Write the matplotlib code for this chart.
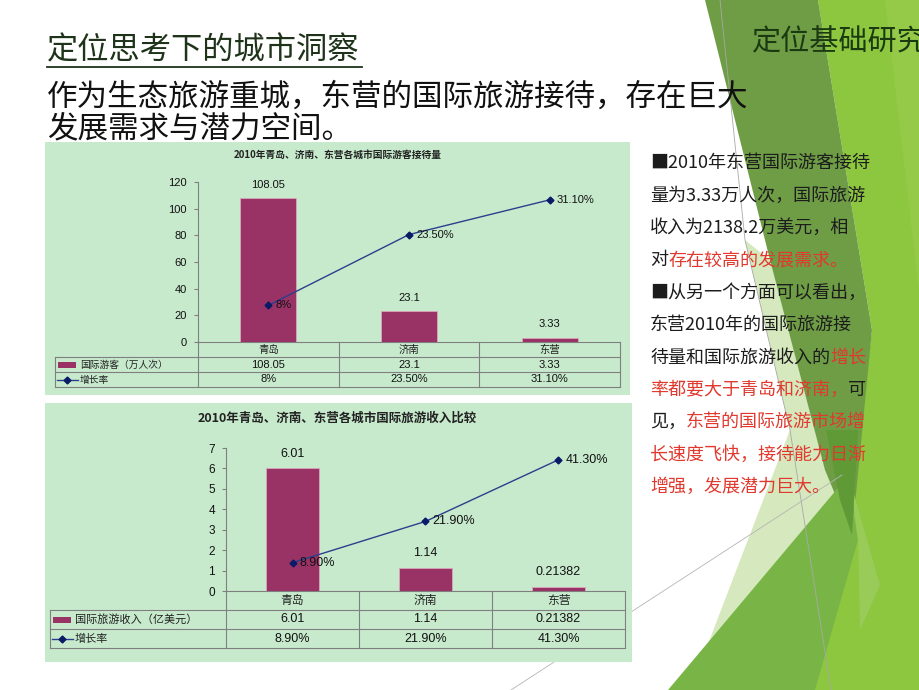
import matplotlib
matplotlib.use('Agg')
import matplotlib.pyplot as plt
from matplotlib.patches import Polygon, Rectangle
from matplotlib.transforms import blended_transform_factory as btf

plt.rcParams['font.family'] = ['Noto Sans CJK SC', 'DejaVu Sans']

# ---------------- data ----------------
cities = ['青岛', '济南', '东营']

visitors = [108.05, 23.1, 3.33]
visitor_value_labels = ['108.05', '23.1', '3.33']
visitor_growth = [0.08, 0.235, 0.311]
visitor_growth_labels = ['8%', '23.50%', '31.10%']
visitor_ticks = [0, 20, 40, 60, 80, 100, 120]

income = [6.01, 1.14, 0.21382]
income_value_labels = ['6.01', '1.14', '0.21382']
income_growth = [0.089, 0.219, 0.413]
income_growth_labels = ['8.90%', '21.90%', '41.30%']
income_ticks = [0, 1, 2, 3, 4, 5, 6, 7]

title1 = '2010年青岛、济南、东营各城市国际游客接待量'
title2 = '2010年青岛、济南、东营各城市国际旅游收入比较'
legend_bar1 = '国际游客（万人次）'
legend_bar2 = '国际旅游收入（亿美元）'
legend_line = '增长率'

W, H = 920, 690
BAR = '#993366'
LINE = '#2b3f8c'
MARK = '#0b1a66'
GRID = '#7f7f7f'
PANEL = '#c7eacd'
RED = '#e0392e'
TXT = '#1c1c1c'

fig = plt.figure(figsize=(W / 100, H / 100), dpi=100)
bg = fig.add_axes([0, 0, 1, 1])
bg.set_xlim(0, W)
bg.set_ylim(H, 0)
bg.axis('off')

# ---------------- background shapes ----------------
polys = [
    ([(818, 0), (920, 0), (920, 690), (800, 690), (852, 495), (872, 330)], '#8dc63f'),
    ([(885, 0), (920, 0), (920, 300)], '#95ca48'),
    ([(745, 240), (770, 260), (826, 472), (840, 500), (700, 665), (790, 430)], '#d6e8bd'),
    ([(705, 0), (818, 0), (872, 330), (852, 535), (825, 470), (770, 260)], '#6e9d46'),
    ([(668, 690), (848, 476), (858, 540), (815, 690)], '#79b546'),
    ([(850, 480), (880, 585), (860, 630), (858, 540)], '#98cb58'),
    ([(826, 430), (858, 430), (852, 535), (840, 500)], '#5f9a36'),
]
for pts, c in polys:
    bg.add_patch(Polygon(pts, closed=True, facecolor=c, edgecolor='none', zorder=1))
bg.plot([720, 745, 790, 831], [0, 240, 430, 690], color='#a8a8a8', lw=0.6, zorder=2)
bg.plot([511, 842], [690, 475], color='#b5b5b5', lw=0.6, zorder=2)

# ---------------- headline texts ----------------
bg.text(47, 50, '定位思考下的城市洞察', fontsize=22.5, color='#1e3319', ha='left', va='center', zorder=5)
bg.plot([47, 362], [67, 67], color='#1e3319', lw=1.3, zorder=5)
bg.text(47, 97, '作为生态旅游重城，东营的国际旅游接待，存在巨大', fontsize=22, color='#111111',
        ha='left', va='center', zorder=5)
bg.text(47, 129, '发展需求与潜力空间。', fontsize=22, color='#111111', ha='left', va='center', zorder=5)
bg.text(752, 42, '定位基础研究', fontsize=21, color='#1b3a12', ha='left', va='center', zorder=5)

# ---------------- right side text ----------------
right_lines = [
    [('■2010年东营国际游客接待', TXT)],
    [('量为3.33万人次，国际旅游', TXT)],
    [('收入为2138.2万美元，相', TXT)],
    [('对', TXT), ('存在较高的发展需求。', RED)],
    [('■从另一个方面可以看出，', TXT)],
    [('东营2010年的国际旅游接', TXT)],
    [('待量和国际旅游收入的', TXT), ('增长', RED)],
    [('率都要大于青岛和济南，', RED), ('可', TXT)],
    [('见，', TXT), ('东营的国际旅游市场增', RED)],
    [('长速度飞快，接待能力日渐', RED)],
    [('增强，发展潜力巨大。', RED)],
]
for i, segs in enumerate(right_lines):
    y = 163 + i * 32.4
    prev = None
    for s, c in segs:
        if prev is None:
            prev = bg.text(650, y, s, color=c, fontsize=13, ha='left', va='center', zorder=5)
        else:
            prev = bg.annotate(s, xy=(1, 0), xycoords=prev, ha='left', va='bottom',
                               color=c, fontsize=13, zorder=5)


# ---------------- charts ----------------
def chart(px_left, px_right, px_y0, px_top, ymax, y2max, ticks, vals, vlabels,
          growth, glabels, title, title_y, title_x, title_fs, panel, tbl_left, row_h,
          legend_bar, fs_tick, fs_lab, fs_tbl):
    px0, py0, px1, py1 = panel
    bg.add_patch(Rectangle((px0, py0), px1 - px0, py1 - py0, facecolor=PANEL,
                           edgecolor='none', zorder=3))
    bg.text(title_x, title_y, title, fontsize=title_fs, color='#222222',
            ha='center', va='center', zorder=5, fontweight='bold')

    ax = fig.add_axes([px_left / W, 1 - px_y0 / H, (px_right - px_left) / W, (px_y0 - px_top) / H])
    ax.patch.set_alpha(0)
    x = list(range(len(cities)))
    ax.bar(x, vals, width=0.4, color=BAR, edgecolor='#d9a6ba', linewidth=0.6, zorder=2)
    ax.set_xlim(-0.5, len(cities) - 0.5)
    ax.set_ylim(0, ymax)
    ax.set_yticks(ticks)
    ax.set_yticklabels([str(t) for t in ticks], fontsize=fs_tick, family='Liberation Sans', color='#111111')
    ax.set_xticks([])
    for s in ['top', 'right', 'bottom']:
        ax.spines[s].set_visible(False)
    ax.spines['left'].set_color(GRID)
    ax.spines['left'].set_linewidth(0.8)
    ax.tick_params(axis='y', length=3, color=GRID, pad=5)
    for xi, v, lab in zip(x, vals, vlabels):
        ax.annotate(lab, (xi, v), xytext=(0, 6), textcoords='offset points', ha='center',
                    va='bottom', fontsize=fs_lab, family='Liberation Sans', color='#111111')

    ax2 = ax.twinx()
    ax2.set_ylim(0, y2max)
    ax2.axis('off')
    ax2.plot(x, growth, color=LINE, lw=1, marker='D', ms=3.5, mfc=MARK, mec=MARK, zorder=3)
    for xi, g, lab in zip(x, growth, glabels):
        ax2.annotate(lab, (xi, g), xytext=(5, 0), textcoords='offset points', ha='left',
                     va='center', fontsize=fs_lab, family='Liberation Sans', color='#111111')

    # data table
    tr = btf(ax.transData, bg.transData)
    y_rows = [px_y0 + k * row_h for k in range(4)]
    bg.plot([px_left, px_right], [px_y0, px_y0], color=GRID, lw=0.8, zorder=4)
    for yy in y_rows[1:]:
        bg.plot([tbl_left, px_right], [yy, yy], color=GRID, lw=0.8, zorder=4)
    bg.plot([tbl_left, tbl_left], [y_rows[1], y_rows[3]], color=GRID, lw=0.8, zorder=4)
    for xb in [k - 0.5 for k in range(len(cities) + 1)]:
        bg.plot([xb, xb], [y_rows[0], y_rows[3]], color=GRID, lw=0.8, zorder=4, transform=tr)
    c0 = px_y0 + row_h / 2
    c1 = c0 + row_h
    c2 = c1 + row_h
    for xi, city, vl, gl in zip(x, cities, vlabels, glabels):
        bg.text(xi, c0, city, transform=tr, ha='center', va='center', fontsize=fs_tbl + 0.5,
                color='#222222', zorder=5)
        bg.text(xi, c1, vl, transform=tr, ha='center', va='center', fontsize=fs_lab,
                family='Liberation Sans', color='#111111', zorder=5)
        bg.text(xi, c2, gl, transform=tr, ha='center', va='center', fontsize=fs_lab,
                family='Liberation Sans', color='#111111', zorder=5)
    # legend keys
    bg.add_patch(Rectangle((tbl_left + 3, c1 - 3), 18, 6, facecolor=BAR, edgecolor='none', zorder=5))
    bg.text(tbl_left + 25, c1, legend_bar, ha='left', va='center', fontsize=fs_tbl, color='#222222', zorder=5)
    bg.plot([tbl_left + 2, tbl_left + 23], [c2, c2], color=LINE, lw=1, zorder=5)
    bg.plot([tbl_left + 12.5], [c2], marker='D', ms=3.5, color=MARK, zorder=6)
    bg.text(tbl_left + 25, c2, legend_line, ha='left', va='center', fontsize=fs_tbl, color='#222222', zorder=5)
    return ax


chart(198, 620, 342, 182, 120, 0.35, visitor_ticks, visitors, visitor_value_labels,
      visitor_growth, visitor_growth_labels, title1, 155, 338, 7, (45, 142, 630, 395), 55, 15,
      legend_bar1, 8, 8, 7)

chart(226, 625, 591, 448, 7, 0.45, income_ticks, income, income_value_labels,
      income_growth, income_growth_labels, title2, 418, 337, 9, (45, 403, 632, 662), 50, 19,
      legend_bar2, 8.5, 9, 8)

fig.savefig('out.png', dpi=100)
